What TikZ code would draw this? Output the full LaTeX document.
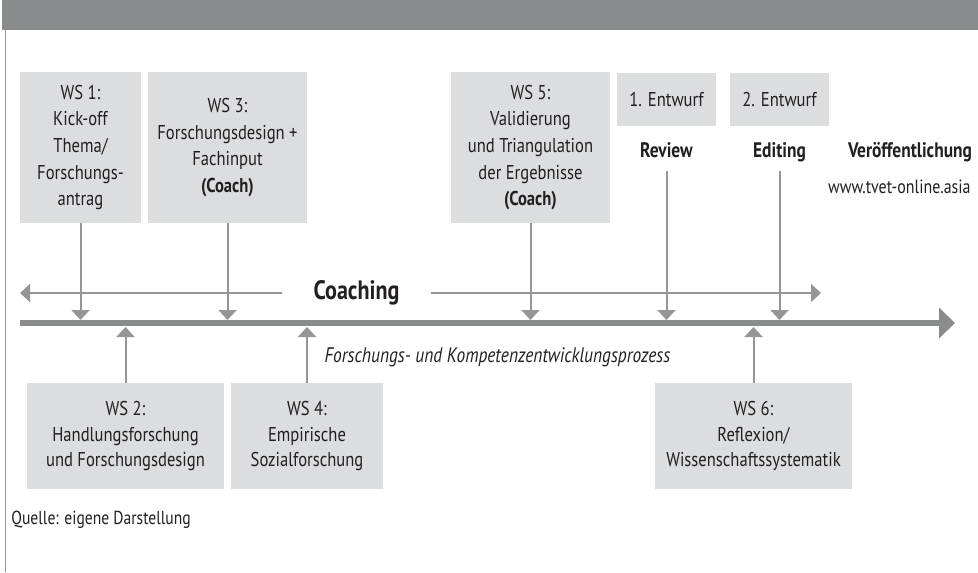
\documentclass[tikz,border=0pt]{standalone}
\usepackage{fontspec}
\setmainfont{PT Sans}[FakeStretch=0.83]
\usetikzlibrary{arrows.meta,positioning}
\definecolor{barGray}{RGB}{138,139,143}
\definecolor{lineGray}{RGB}{147,149,152}
\definecolor{boxGray}{RGB}{220,221,223}
\definecolor{inkDark}{RGB}{35,31,32}

\begin{document}
\begin{tikzpicture}[
    x=0.5pt,y=-0.5pt,
    ws/.style={rectangle,fill=boxGray,inner sep=0pt,align=center,text=inkDark,
      font=\fontsize{10}{13.3}\selectfont},
    topbox/.style={ws,minimum height=75.5pt},
    lowbox/.style={ws,minimum height=53pt,font=\fontsize{10}{12.6}\selectfont},
    draftbox/.style={ws,minimum width=49.5pt,minimum height=26.5pt},
    stagelabel/.style={text=inkDark,font=\bfseries\fontsize{10.5}{12}\selectfont,
      text height=7pt,text depth=2pt,inner xsep=0pt,inner ysep=4.5pt},
    note/.style={text=inkDark,font=\fontsize{9.4}{11}\selectfont},
    pin/.style={draw=lineGray,line width=1pt,-{Triangle[width=9pt,length=5pt]}},
    timeline/.style={draw=barGray,line width=3pt,-{Triangle[width=15pt,length=8pt]}}
  ]
    \useasboundingbox (0,0) rectangle (978,572);
    \fill[barGray] (2,0) rectangle (978,30);
    \draw[lineGray,line width=0.5pt] (5,30) -- (5,572);

    \node[topbox,minimum width=60.5pt] (ws1) at (80.5,147.5)
      {WS 1:\\Kick-off\\Thema/\\Forschungs-\\antrag};
    \node[topbox,minimum width=79.5pt] (ws3) at (227.5,147.5)
      {WS 3:\\Forschungsdesign +\\Fachinput\\\textbf{(Coach)}};
    \node[topbox,minimum width=79.5pt] (ws5) at (530.5,147.5)
      {WS 5:\\Validierung\\und Triangulation\\der Ergebnisse\\\textbf{(Coach)}};
    \node[draftbox] (draft1) at (666.5,99.5) {1. Entwurf};
    \node[draftbox] (draft2) at (779.5,99.5) {2. Entwurf};
    \node[stagelabel] (review) at (666.5,153) {Review};
    \node[stagelabel] (editing) at (779.5,153) {Editing};
    \node[stagelabel] (publish) at (910,153) {Veröffentlichung};
    \node[note,font=\fontsize{9.6}{11}\selectfont,anchor=east,inner xsep=0pt] (url) at (971,187)
      {www.tvet-online.asia};

    \node[lowbox,minimum width=98.5pt] (ws2) at (125.5,436)
      {WS 2:\\Handlungsforschung\\und Forschungsdesign};
    \node[lowbox,minimum width=76pt] (ws4) at (307,436)
      {WS 4:\\Empirische\\Sozialforschung};
    \node[lowbox,minimum width=98.5pt] (ws6) at (753.5,436)
      {WS 6:\\Reflexion/\\Wissenschaftssystematik};

    \coordinate (axisL) at (20,323);
    \coordinate (axisR) at (955,323);
    \coordinate (ontop) at (0,320);
    \coordinate (onbottom) at (0,327);
    \draw[timeline] (axisL) -- (axisR);

    \node[text=inkDark,font=\bfseries\fontsize{13.3}{15}\selectfont,inner xsep=15.5pt]
      (coaching) at (356.5,293) {Coaching};
    \coordinate (coachL) at (20,293);
    \coordinate (coachR) at (821,293);
    \draw[pin] (coaching) -- (coachL);
    \draw[pin] (coaching) -- (coachR);

    \foreach \src in {ws1,ws3,ws5,review,editing}
      \draw[pin] (\src) -- (\src |- ontop);
    \foreach \src in {ws2,ws4,ws6}
      \draw[pin] (\src) -- (\src |- onbottom);

    \node[note,font=\itshape\fontsize{10.5}{12}\selectfont] (process) at (497.5,357)
      {Forschungs- und Kompetenzentwicklungsprozess};
    \node[note,anchor=west,inner sep=0pt] (source) at (11,520) {Quelle: eigene Darstellung};
  \end{tikzpicture}
\end{document}
